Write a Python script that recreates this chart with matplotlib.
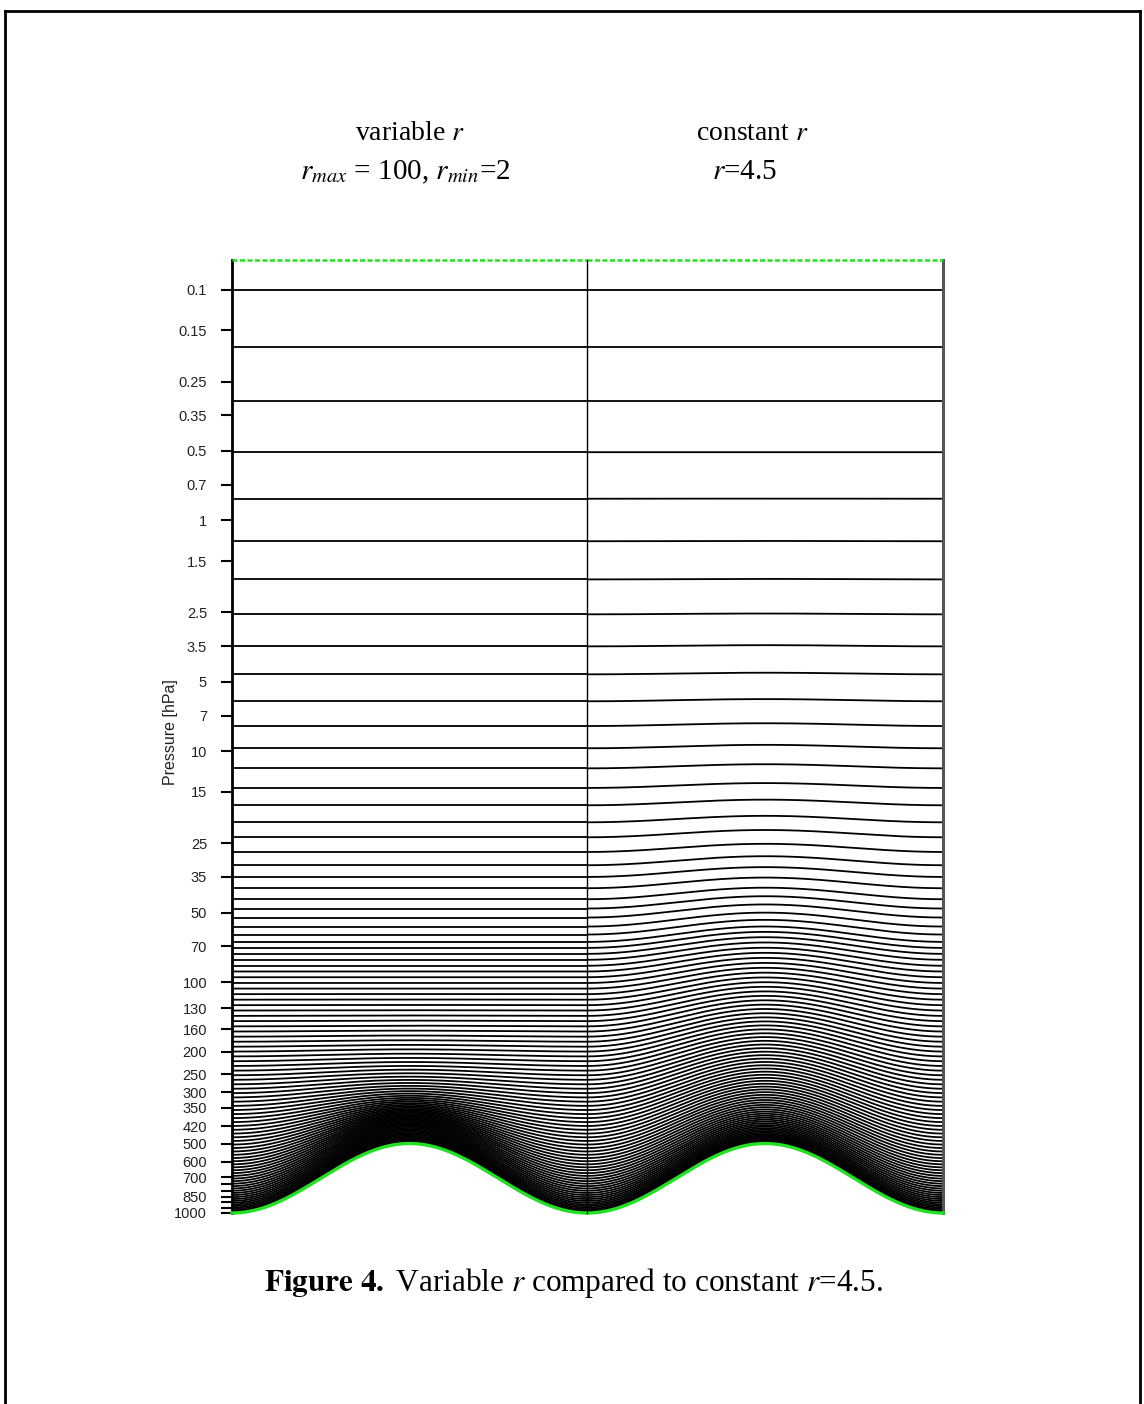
"""
Hybrid vertical coordinate over an idealised mountain
======================================================
Left : variable r  (r_max = 100, r_min = 2)
Right: constant r = 4.5
Model levels are drawn on a log-pressure axis. Saved as out.png
"""

import numpy as np
import matplotlib
matplotlib.use("Agg")
import matplotlib.pyplot as plt
from matplotlib.lines import Line2D
from matplotlib.ticker import FixedLocator, FixedFormatter, NullLocator

# ──────────────────────────────────────────────
# 0. Data
# ──────────────────────────────────────────────
P_TOP = 0.0744                       # model lid [hPa]
P_SURF_VALLEY = 1000.0               # surface pressure in the valleys
P_SURF_PEAK = 500.0                  # surface pressure on the crest
R_MAX, R_MIN = 100.0, 2.0            # variable-r panel
R_CONST = 4.5                        # constant-r panel

# reference level pressures over flat ground [hPa]
P_LEVELS = [
    0.1, 0.177, 0.304, 0.506, 0.805, 1.23, 1.80, 2.55, 3.51, 4.64,
    6.07, 7.77, 9.70, 11.85, 14.41, 17.13, 20.30, 23.57, 27.29, 31.15,
    35.01, 39.18, 43.72, 47.97, 52.48, 57.42, 62.18, 66.92, 71.06,
    75.4, 80.0, 84.9, 89.9, 95.2, 100.8, 106.6, 112.7, 119.1, 125.8,
    132.7, 140.0, 147.5, 155.4, 163.6, 172.2, 181.1, 190.3, 199.8, 209.7,
    220.0, 230.7, 241.7, 253.1, 264.8, 277.0, 289.5, 302.4, 315.7, 329.4,
    343.5, 358.0, 372.9, 388.1, 403.8, 419.7, 436.1, 452.8, 469.9, 487.4,
    505.2, 523.2, 541.3, 559.6, 578.1, 596.7, 615.4, 634.2, 652.9, 671.7,
    690.5, 709.3, 727.8, 746.4, 764.8, 783.0, 800.9, 818.8, 836.2, 853.5,
    870.2, 886.6, 902.7, 918.2, 933.2, 947.6, 961.7, 975.0, 987.9, 1000.0,
]

TICK_VALUES = [0.1, 0.15, 0.25, 0.35, 0.5, 0.7, 1, 1.5, 2.5, 3.5, 5, 7,
               10, 15, 25, 35, 50, 70, 100, 130, 160, 200, 250, 300, 350,
               420, 500, 600, 700, 750, 800, 850, 900, 950, 1000]
TICK_LABELS = ["0.1", "0.15", "0.25", "0.35", "0.5", "0.7", "1", "1.5",
               "2.5", "3.5", "5", "7", "10", "15", "25", "35", "50", "70",
               "100", "130", "160", "200", "250", "300", "350", "420", "500",
               "600", "700", "", "", "850", "", "", "1000"]

PANEL_TITLES = [r"variable $r$", r"constant $r$"]
PANEL_SUBTITLES = [r"$r_{max}$ = 100, $r_{min}$=2", r"$r$=4.5"]

# ──────────────────────────────────────────────
# 1. Style
# ──────────────────────────────────────────────
plt.rcParams.update({
    "font.family": ["Liberation Sans", "DejaVu Sans"],
    "mathtext.fontset": "stix",
    "figure.facecolor": "white",
    "axes.facecolor": "white",
})
SERIF = ["Liberation Serif", "DejaVu Serif"]
GREEN = "#22e022"
W, H = 1144, 1404


def surface_log_p(x):
    """log10 surface pressure along one panel (one cosine wave)."""
    y_lo = np.log10(P_SURF_VALLEY)
    y_hi = np.log10(P_SURF_PEAK)
    return y_lo - (y_lo - y_hi) * (1 - np.cos(2 * np.pi * x)) / 2


def level_pressure(p_ref, x, r_func):
    y_top = np.log10(P_TOP)
    y_bot = np.log10(P_SURF_VALLEY)
    y_ref = np.log10(p_ref)
    zeta = (y_ref - y_top) / (y_bot - y_top)
    shift = (surface_log_p(x) - y_bot) * zeta ** r_func(zeta)
    return 10 ** (y_ref + shift)


R_FUNCS = [
    lambda z: R_MIN + (R_MAX - R_MIN) * (1 - z),
    lambda z: R_CONST,
]

# ──────────────────────────────────────────────
# 2. Figure
# ──────────────────────────────────────────────
fig = plt.figure(figsize=(W / 100, H / 100), dpi=100)

ax_l = fig.add_axes([232 / W, 1 - 1213 / H, 355 / W, 953 / H])
ax_r = fig.add_axes([587 / W, 1 - 1213 / H, 356 / W, 953 / H], sharey=ax_l)
ax_r.patch.set_visible(False)

x = np.linspace(0, 1, 600)
for ax, r_func in zip([ax_l, ax_r], R_FUNCS):
    for p in P_LEVELS:
        ax.plot(x, level_pressure(p, x, r_func), color="black", lw=1.3,
                solid_capstyle="butt")
    # model lid and ground
    ax.plot([0, 1], [P_TOP, P_TOP], color=GREEN, lw=1.8, ls=(0, (2, 1)),
            clip_on=False, zorder=4)
    ax.plot(x, 10 ** surface_log_p(x), color=GREEN, lw=2.4, clip_on=False,
            zorder=4)
    ax.set_xlim(0, 1)
    ax.xaxis.set_major_locator(NullLocator())
    ax.spines["top"].set_visible(False)
    ax.spines["bottom"].set_visible(False)

ax_l.set_yscale("log")
ax_l.set_ylim(1000, P_TOP)
ax_l.yaxis.set_major_locator(FixedLocator(TICK_VALUES))
ax_l.yaxis.set_major_formatter(FixedFormatter(TICK_LABELS))
ax_l.yaxis.set_minor_locator(NullLocator())
ax_l.tick_params(axis="y", length=8, width=1.5, pad=10, labelsize=10.5,
                 labelcolor="#222222")
ax_l.spines["left"].set_linewidth(2.0)
ax_l.spines["right"].set_visible(False)

ax_r.spines["left"].set_linewidth(1.0)
ax_r.spines["left"].set_zorder(5)
ax_r.spines["right"].set_linewidth(2.2)
ax_r.spines["right"].set_color("#555555")
ax_r.tick_params(axis="y", left=False, labelleft=False)
ax_r.yaxis.set_minor_locator(NullLocator())

fig.text(170 / W, 1 - 732 / H, "Pressure [hPa]", rotation=90,
         ha="center", va="center", fontsize=11.5, color="#222222")

# panel headings
for cx, title in zip([410, 752], PANEL_TITLES):
    fig.text(cx / W, 1 - 134 / H, title, ha="center", va="center",
             fontsize=20, family=SERIF)
for cx, sub in zip([405, 745], PANEL_SUBTITLES):
    fig.text(cx / W, 1 - 172 / H, sub, ha="center", va="center",
             fontsize=21, family=SERIF)

# caption
fig.text(573 / W, 1 - 1283 / H,
         r"$\mathbf{Figure\ 4.}$ Variable $r$ compared to constant $r$=4.5.",
         ha="center", va="center", fontsize=22.5, family=SERIF)

# page border
for xs, ys in [([5, 5], [11, H]), ([5, 1140], [11, 11]), ([1140, 1140], [11, H])]:
    fig.add_artist(Line2D([v / W for v in xs], [1 - v / H for v in ys],
                          color="black", lw=2.0))

fig.savefig("out.png", dpi=100)
